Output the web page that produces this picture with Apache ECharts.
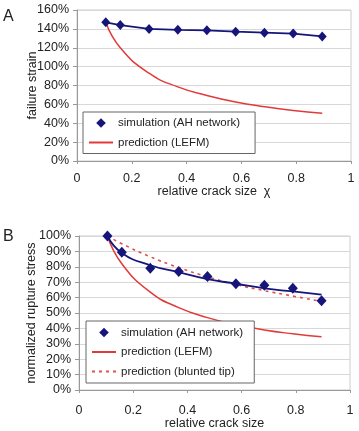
<!DOCTYPE html>
<html>
<head>
<meta charset="utf-8">
<script src="https://cdn.jsdelivr.net/npm/echarts@6/dist/echarts.min.js"></script>
<style>
  html, body { margin: 0; padding: 0; background: #fff; }
  #chart { width: 359px; height: 431px; }
</style>
</head>
<body>
<div id="chart"></div>
<script>
// relative crack size (x of every series)
const crackSize = [0.105, 0.158, 0.263, 0.368, 0.474, 0.579, 0.684, 0.789, 0.895];

// panel A: failure strain (%)
const strainSim = [147, 144, 140, 139, 138.5, 137, 136, 135, 132];
const strainLefm = [147, 120, 93, 78.5, 69.5, 62.5, 57.5, 53.5, 50.5];

// panel B: normalized rupture stress (%)
const stressSim = [100, 89.5, 79, 77, 73.7, 69, 68, 66, 58];
const stressFit = [100, 89, 81, 76.5, 72, 69, 66, 64, 62];
const stressLefm = [100, 82, 63.5, 53.5, 47, 42.5, 39, 36.5, 34.5];
const stressBlunt = [100, 95, 86.5, 79.5, 73.5, 68.5, 64.5, 61, 57.5];

const FONT = "'Liberation Sans', Arial, sans-serif";
const NAVY = "#16167a";
const RED = "#e23a3a";

function pairs(ys) {
  return crackSize.map((x, i) => [x, ys[i]]);
}

function xAxis(gridIndex, name, nameGap, labelMargin) {
  return {
    type: "value",
    gridIndex: gridIndex,
    min: 0,
    max: 1,
    interval: 0.2,
    name: name,
    nameLocation: "middle",
    nameGap: nameGap,
    nameMoveOverlap: false,
    nameTextStyle: { fontFamily: FONT, fontSize: 12.5, color: "#222" },
    axisLine: { lineStyle: { color: "#999" } },
    axisTick: { show: true, length: 3, lineStyle: { color: "#999" } },
    axisLabel: {
      margin: labelMargin,
      fontFamily: FONT,
      fontSize: 12.5,
      color: "#222",
    },
    splitLine: { show: false },
  };
}

function yAxis(gridIndex, name, max, step, nameGap) {
  return {
    type: "value",
    gridIndex: gridIndex,
    min: 0,
    max: max,
    interval: step,
    name: name,
    nameLocation: "middle",
    nameRotate: 90,
    nameGap: nameGap,
    nameMoveOverlap: false,
    nameTextStyle: { fontFamily: FONT, fontSize: 12.5, color: "#222" },
    axisLine: { show: true, lineStyle: { color: "#999" } },
    axisTick: { show: true, length: 4, lineStyle: { color: "#999" } },
    axisLabel: {
      margin: 8,
      fontFamily: FONT,
      fontSize: 12.5,
      color: "#222",
      formatter: "{value}%",
    },
    splitLine: { lineStyle: { color: "#d8d8d8" } },
  };
}

const legendBase = {
  orient: "vertical",
  itemWidth: 24,
  itemHeight: 12,
  itemGap: 7.5,
  borderColor: "#666",
  borderWidth: 1,
  backgroundColor: "#fff",
  selectedMode: false,
  textStyle: { fontFamily: FONT, fontSize: 11.5, color: "#222" },
};

const titleStyle = { fontFamily: FONT, fontSize: 16, fontWeight: "normal", color: "#222" };

const option = {
  animation: false,
  title: [
    { text: "A", left: 3, top: 9, padding: 0, textStyle: titleStyle },
    { text: "B", left: 3, top: 229, padding: 0, textStyle: titleStyle },
  ],
  grid: [
    { left: 77, right: 8, top: 10, height: 151, show: true, borderColor: "#ccc", backgroundColor: "transparent" },
    { left: 79, right: 9, top: 236, height: 156, show: true, borderColor: "#ccc", backgroundColor: "transparent" },
  ],
  xAxis: [
    xAxis(0, "relative crack size  χ", 24, 11),
    xAxis(1, "relative crack size", 27, 14.5),
  ],
  yAxis: [
    yAxis(0, "failure strain", 160, 20, 38),
    yAxis(1, "normalized rupture stress", 100, 10, 40.5),
  ],
  legend: [
    Object.assign({}, legendBase, {
      left: 83,
      top: 112,
      padding: [5, 15, 5, 5],
      data: [
        { name: "simulation (AH network)", lineStyle: { width: 0 } },
        { name: "prediction (LEFM)", itemStyle: { opacity: 0 } },
      ],
    }),
    Object.assign({}, legendBase, {
      left: 86,
      top: 321,
      padding: [5.5, 8, 5.5, 5],
      data: [
        { name: "simulation (AH network) ", lineStyle: { width: 0 } },
        { name: "prediction (LEFM) ", itemStyle: { opacity: 0 } },
        { name: "prediction (blunted tip)", itemStyle: { opacity: 0 } },
      ],
    }),
  ],
  series: [
    // panel A
    {
      name: "prediction (LEFM)",
      type: "line",
      xAxisIndex: 0,
      yAxisIndex: 0,
      data: pairs(strainLefm),
      smooth: true,
      symbol: "none",
      lineStyle: { color: RED, width: 1.5 },
      itemStyle: { color: RED },
    },
    {
      name: "simulation (AH network)",
      type: "line",
      xAxisIndex: 0,
      yAxisIndex: 0,
      data: pairs(strainSim),
      symbol: "diamond",
      symbolSize: [9, 10],
      lineStyle: { color: NAVY, width: 1.8 },
      itemStyle: { color: NAVY },
    },
    // panel B
    {
      name: "prediction (LEFM) ",
      type: "line",
      xAxisIndex: 1,
      yAxisIndex: 1,
      data: pairs(stressLefm),
      smooth: true,
      symbol: "none",
      lineStyle: { color: RED, width: 1.5 },
      itemStyle: { color: RED },
    },
    {
      name: "prediction (blunted tip)",
      type: "line",
      xAxisIndex: 1,
      yAxisIndex: 1,
      data: pairs(stressBlunt),
      smooth: true,
      symbol: "none",
      lineStyle: { color: "#e05050", width: 1.6, type: [3, 4] },
      itemStyle: { color: "#e05050" },
    },
    {
      name: "fit",
      type: "line",
      xAxisIndex: 1,
      yAxisIndex: 1,
      data: pairs(stressFit),
      smooth: true,
      symbol: "none",
      lineStyle: { color: NAVY, width: 1.8 },
    },
    {
      // markers only, no connecting line
      name: "simulation (AH network) ",
      type: "line",
      xAxisIndex: 1,
      yAxisIndex: 1,
      data: pairs(stressSim),
      symbol: "diamond",
      symbolSize: [10, 11],
      lineStyle: { width: 0 },
      itemStyle: { color: NAVY },
    },
  ],
};

let myChart = echarts.init(document.getElementById("chart"));
myChart.setOption(option);
</script>
</body>
</html>
